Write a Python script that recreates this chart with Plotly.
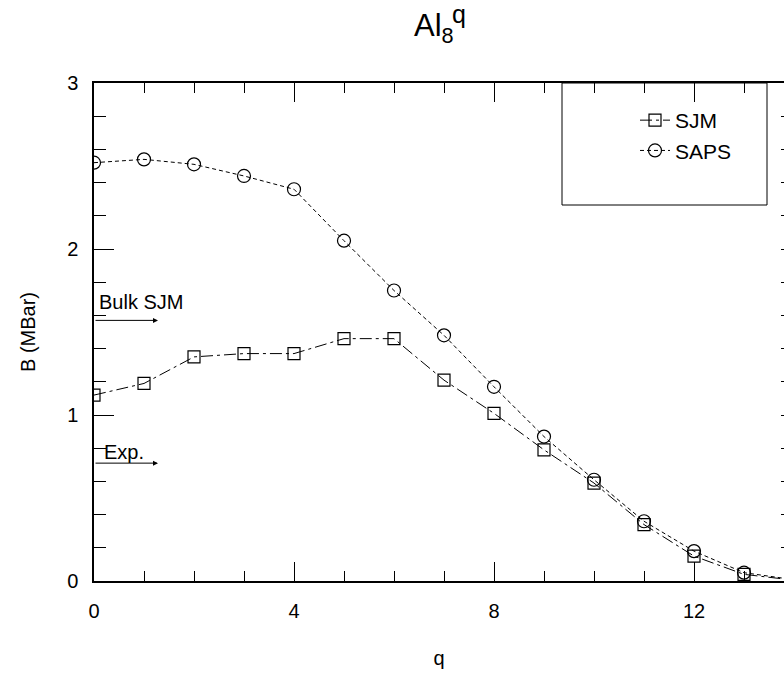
import plotly.graph_objects as go

# ---- data ----
q_values = list(range(0, 15))
sjm_values = [1.12, 1.19, 1.35, 1.37, 1.37, 1.46, 1.46, 1.21, 1.01, 0.79, 0.59, 0.34, 0.15, 0.04, 0.005]
saps_values = [2.52, 2.54, 2.51, 2.44, 2.36, 2.05, 1.75, 1.48, 1.17, 0.87, 0.61, 0.36, 0.18, 0.05, 0.008]

series_names = ["SJM", "SAPS"]
ref_labels = ["Bulk SJM", "Exp."]
ref_values = [1.57, 0.71]
ref_text_values = [1.68, 0.78]
arrow_end_q = 1.28

x_tick_vals = [0, 4, 8, 12]
y_tick_vals = [0, 1, 2, 3]

FONT = "Liberation Sans, Arial, Helvetica, sans-serif"
W, H = 784, 674
L, R, T, B = 94, 0, 83, 93

fig = go.Figure()

fig.add_trace(go.Scatter(
    x=q_values, y=sjm_values, name=series_names[0], mode="lines+markers",
    line=dict(color="black", width=1, dash="12px,4px,3px,4px"),
    marker=dict(symbol="square-open", size=12, color="black", line=dict(width=1.2, color="black")),
))
fig.add_trace(go.Scatter(
    x=q_values, y=saps_values, name=series_names[1], mode="lines+markers",
    line=dict(color="black", width=1, dash="4px,3px"),
    marker=dict(symbol="circle-open", size=13, color="black", line=dict(width=1.2, color="black")),
))
# helper trace for the right-hand (cropped) tick axis
fig.add_trace(go.Scatter(x=[], y=[], yaxis="y2", showlegend=False, hoverinfo="skip"))

annotations = []
for lab, v, tv in zip(ref_labels, ref_values, ref_text_values):
    annotations.append(dict(
        x=arrow_end_q, y=v, xref="x", yref="y", ax=0, ay=v, axref="x", ayref="y",
        text="", showarrow=True, arrowhead=2, arrowsize=1, arrowwidth=1, arrowcolor="black",
        standoff=0, startstandoff=0,
    ))
    annotations.append(dict(
        x=0, y=tv, xref="x", yref="y", text=lab, showarrow=False,
        xanchor="left", yanchor="middle", xshift=3 if lab == "Bulk SJM" else 8,
        font=dict(family=FONT, size=20, color="black"),
    ))

pw = W - L - R
ph = H - T - B
def px_x(p):
    return (p - L) / pw
def px_y(p):
    return (H - B - p) / ph

# title
annotations.append(dict(
    x=px_x(434), y=px_y(28), xref="paper", yref="paper", text="Al<sub>8</sub>",
    showarrow=False, xanchor="center", yanchor="middle",
    font=dict(family=FONT, size=31, color="black"),
))
annotations.append(dict(
    x=px_x(459), y=px_y(14), xref="paper", yref="paper", text="q",
    showarrow=False, xanchor="center", yanchor="middle",
    font=dict(family=FONT, size=25, color="black"),
))

fig.update_layout(
    width=W, height=H,
    margin=dict(l=L, r=R, t=T, b=B, pad=0),
    paper_bgcolor="white", plot_bgcolor="white",
    font=dict(family=FONT, size=20, color="black"),
    showlegend=True,
    legend=dict(
        x=px_x(635), y=px_y(100), xanchor="left", yanchor="top",
        bgcolor="rgba(0,0,0,0)", borderwidth=0,
        font=dict(family=FONT, size=21, color="black"),
        tracegroupgap=1,
    ),
    shapes=[dict(
        type="rect", xref="paper", yref="paper",
        x0=px_x(562), x1=px_x(767), y0=px_y(205), y1=1.0,
        line=dict(color="black", width=1), fillcolor="rgba(0,0,0,0)", layer="above",
    )],
    annotations=annotations,
    xaxis=dict(
        range=[0, 13.8], tickvals=x_tick_vals, ticks="inside", ticklen=19, tickwidth=1,
        tickcolor="black", showline=True, linecolor="black", linewidth=1.5, mirror="ticks",
        showgrid=False, zeroline=False, ticklabelstandoff=11,
        minor=dict(dtick=1, tick0=0, ticks="inside", ticklen=10, tickwidth=1, tickcolor="black", showgrid=False),
        title=dict(text="q", standoff=30, font=dict(family=FONT, size=20)),
        tickfont=dict(family=FONT, size=20),
    ),
    yaxis=dict(
        range=[0, 3], tickvals=y_tick_vals, ticks="inside", ticklen=20, tickwidth=1,
        tickcolor="black", showline=True, linecolor="black", linewidth=1.5, mirror=False,
        showgrid=False, zeroline=False, ticklabelstandoff=10,
        minor=dict(dtick=0.2, tick0=0, ticks="inside", ticklen=12, tickwidth=1, tickcolor="black", showgrid=False),
        title=dict(text="B (MBar)", standoff=26, font=dict(family=FONT, size=20)),
        tickfont=dict(family=FONT, size=20),
    ),
    yaxis2=dict(
        overlaying="y", side="right", range=[0, 3], dtick=0.2, tick0=0,
        ticks="inside", ticklen=3, tickwidth=1, tickcolor="black",
        showticklabels=False, showgrid=False, zeroline=False, showline=False,
    ),
)

fig.write_html("out.html")
